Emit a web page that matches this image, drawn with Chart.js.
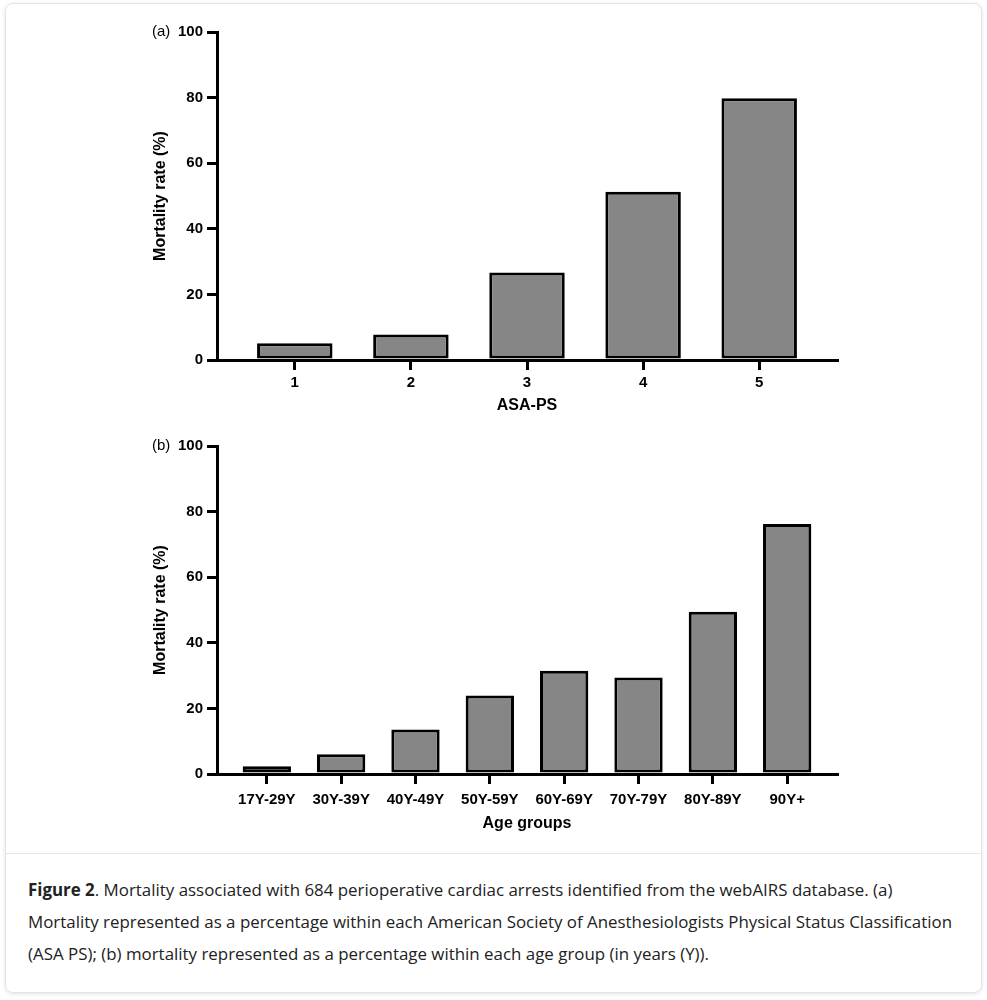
<!DOCTYPE html>
<html>
<head>
<meta charset="utf-8">
<script src="https://cdn.jsdelivr.net/npm/chart.js@4.4.0/dist/chart.umd.min.js"></script>
<style>
  body { margin: 0; background: #fff; }
  .card { position: absolute; left: 5px; top: 3px; width: 975px; height: 988px;
          border: 1px solid #e4e4e4; border-radius: 8px; box-shadow: 0 1px 4px rgba(0,0,0,0.12); }
  canvas { position: absolute; left: 0; }
  #asaChart { top: 0; }
  #ageChart { top: 425px; }
  .sep { position: absolute; left: 6px; top: 853px; width: 975px; height: 1px; background: #e6e6e6; }
  .caption { position: absolute; left: 28px; top: 874px; font-family: 'Open Sans', sans-serif;
             font-size: 16.9px; line-height: 32px; color: #222; white-space: nowrap; }
</style>
</head>
<body>
<div class="card"></div>
<canvas id="asaChart" width="987" height="425"></canvas>
<canvas id="ageChart" width="987" height="425"></canvas>
<div class="sep"></div>
<div class="caption"><b>Figure 2</b>. Mortality associated with 684 perioperative cardiac arrests identified from the webAIRS database. (a)<br>Mortality represented as a percentage within each American Society of Anesthesiologists Physical Status Classification<br>(ASA PS); (b) mortality represented as a percentage within each age group (in years (Y)).</div>

<script>
// data
let asaLabels = ['1', '2', '3', '4', '5']
let asaMortality = [5.1, 7.8, 26.7, 51.3, 79.8]

let ageLabels = ['17Y-29Y', '30Y-39Y', '40Y-49Y', '50Y-59Y', '60Y-69Y', '70Y-79Y', '80Y-89Y', '90Y+']
let ageMortality = [2.4, 6.0, 13.6, 23.9, 31.5, 29.4, 49.5, 76.2]

let yTicks = [0, 20, 40, 60, 80, 100]

Chart.defaults.font.family = "'Liberation Sans', Arial, sans-serif"
Chart.defaults.color = '#000'

// small "(a)" / "(b)" tag next to the top tick
let panelTag = {
    id: 'panelTag',
    afterDraw(chart, args, opts) {
        let y = chart.scales.y
        let ctx = chart.ctx
        ctx.save()
        ctx.font = "15px 'Liberation Sans', Arial, sans-serif"
        ctx.fillStyle = '#000'
        ctx.textAlign = 'left'
        ctx.textBaseline = 'middle'
        ctx.fillText(opts.text, y.left + 5, y.getPixelForValue(100))
        ctx.restore()
    }
}

function makeChart(canvasId, labels, values, xTitle, tag, padding, xHeight, xTickPad) {
    let ctx = document.getElementById(canvasId).getContext('2d')
    return new Chart(ctx, {
        type: 'bar',
        data: {
            datasets: [{
                data: values.map((v, i) => ({ x: i + 1, y: v })),
                backgroundColor: '#868686',
                borderColor: '#000',
                borderWidth: 3,
                borderSkipped: false,
                barPercentage: 0.65,
                categoryPercentage: 1
            }]
        },
        options: {
            responsive: false,
            animation: false,
            layout: { padding: padding },
            plugins: {
                legend: { display: false },
                tooltip: { enabled: false },
                panelTag: { text: tag }
            },
            scales: {
                x: {
                    type: 'linear',
                    offset: false,
                    min: 1 - 0.67,
                    max: labels.length + 0.67,
                    afterBuildTicks: scale => { scale.ticks = labels.map((l, i) => ({ value: i + 1 })) },
                    afterFit: scale => { scale.height = xHeight },
                    grid: { drawOnChartArea: false, offset: false, color: '#000', lineWidth: 3, tickLength: 10 },
                    border: { color: '#000', width: 3 },
                    ticks: {
                        padding: xTickPad,
                        font: { size: 15, weight: 'bold' },
                        maxRotation: 0,
                        autoSkip: false,
                        callback: v => labels[v - 1]
                    },
                    title: {
                        display: true,
                        text: xTitle,
                        font: { size: 16, weight: 'bold' },
                        padding: { top: 4, bottom: 5 }
                    }
                },
                y: {
                    min: 0,
                    max: 100,
                    afterBuildTicks: scale => { scale.ticks = yTicks.map(v => ({ value: v })) },
                    afterFit: scale => { scale.width = 70 },
                    grid: { drawOnChartArea: false, color: '#000', lineWidth: 3, tickLength: 10 },
                    border: { color: '#000', width: 3 },
                    ticks: { padding: 4, font: { size: 15, weight: 'bold' } },
                    title: {
                        display: true,
                        text: 'Mortality rate (%)',
                        font: { size: 16, weight: 'bold' },
                        padding: { top: 4, bottom: 4 }
                    }
                }
            }
        },
        plugins: [panelTag]
    })
}

makeChart('asaChart', asaLabels, asaMortality, 'ASA-PS', '(a)', { top: 32, left: 147, right: 150, bottom: 5 }, 60, 4)
makeChart('ageChart', ageLabels, ageMortality, 'Age groups', '(b)', { top: 21, left: 147, right: 150, bottom: 12 }, 64, 7)
</script>
</body>
</html>
